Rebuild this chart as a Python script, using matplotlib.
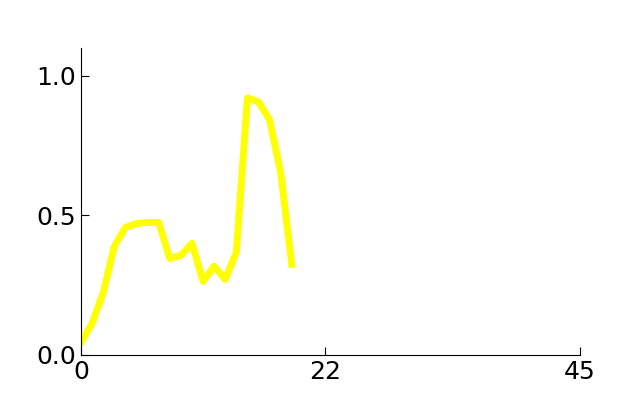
import matplotlib
matplotlib.use("Agg")
import matplotlib.pyplot as plt

# values
x_values = list(range(20))
y_values = [0.046, 0.114, 0.225, 0.39, 0.457, 0.471, 0.475, 0.475, 0.346, 0.357,
            0.40, 0.264, 0.318, 0.271, 0.368, 0.921, 0.907, 0.843, 0.654, 0.325]
x_ticks = [0, 22, 45]
y_ticks = [0.0, 0.5, 1.0]

fig = plt.figure(figsize=(6.44, 4), dpi=100)
ax = fig.add_axes([0.126, 0.1125, 0.7746, 0.7675])

ax.plot(x_values, y_values, color="#ffff00", linewidth=5)

ax.set_xlim(0, 45)
ax.set_ylim(0, 1.1)
ax.set_xticks(x_ticks)
ax.set_yticks(y_ticks)
ax.set_yticklabels(["0.0", "0.5", "1.0"])
ax.tick_params(direction="in", labelsize=18, length=6)

ax.spines["top"].set_visible(False)
ax.spines["right"].set_visible(False)

fig.savefig("out.png", dpi=100)
